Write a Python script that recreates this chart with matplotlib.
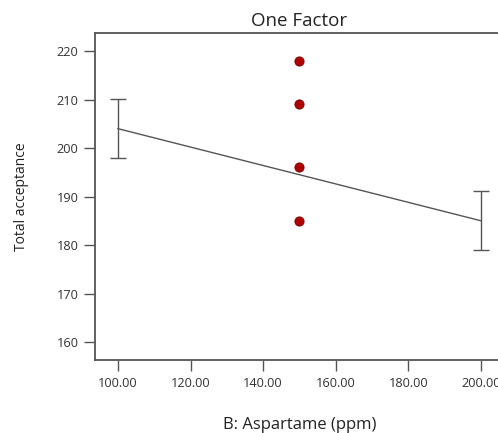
import matplotlib
matplotlib.use('Agg')
import matplotlib.pyplot as plt
import numpy as np

plt.rcParams['font.family'] = ['Open Sans', 'DejaVu Sans']

# design levels and model prediction
x_levels = [100.0, 200.0]
y_pred = [204.0, 185.0]
y_err = [6.1, 6.1]

# observed runs at the centre point
x_obs = [150.0, 150.0, 150.0, 150.0]
y_obs = [218.0, 209.0, 196.0, 185.0]

x_ticks = [100, 120, 140, 160, 180, 200]
y_ticks = [160, 170, 180, 190, 200, 210, 220]

fig = plt.figure(figsize=(4.98, 4.33), dpi=100)
ax = fig.add_axes([0.1908, 0.1686, 0.821, 0.755])

axis_col = '#555555'
ax.plot(x_levels, y_pred, color='#555555', lw=1.0)
ax.errorbar(x_levels, y_pred, yerr=y_err, fmt='none', ecolor='#555555',
            elinewidth=1.0, capsize=5.5, capthick=1.0)
ax.scatter(x_obs, y_obs, s=44, color='#b00000', edgecolor='#700000',
           linewidth=0.6, zorder=3)

ax.set_xlim(93.7, 206.3)
ax.set_ylim(156.3, 223.7)
ax.set_xticks(x_ticks)
ax.set_xticklabels(['%.2f' % v for v in x_ticks])
ax.set_yticks(y_ticks)

for s in ax.spines.values():
    s.set_color(axis_col)
    s.set_linewidth(1.3)
ax.tick_params(colors=axis_col, labelcolor='#333333', labelsize=9.2,
               length=8, width=1.0, pad=4)

ax.set_title('One Factor', fontsize=13.5, color='#222222', pad=5)
ax.set_xlabel('B: Aspartame (ppm)', fontsize=12, color='#222222', labelpad=20)
ax.set_ylabel('Total acceptance', fontsize=10, color='#222222', labelpad=20)

fig.savefig('out.png', dpi=100)
